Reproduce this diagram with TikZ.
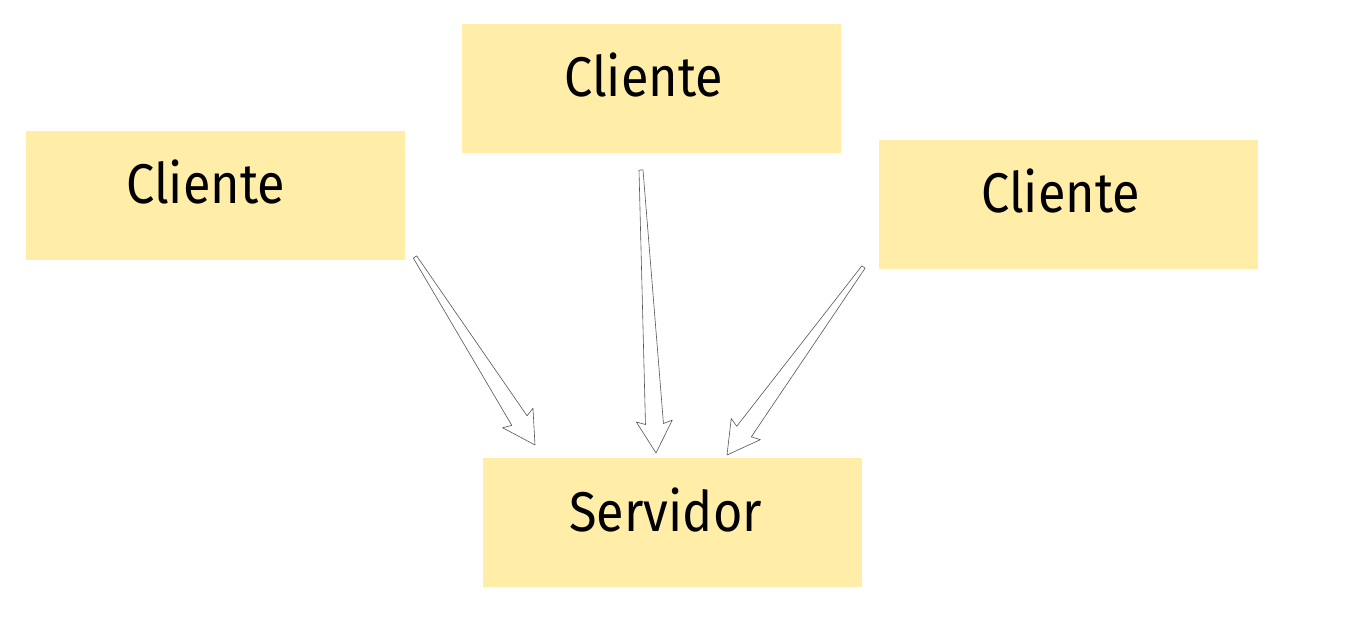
\documentclass[tikz,border=0pt]{standalone}
\usepackage{fontspec}
\setmainfont{Fira Sans}[FakeStretch=0.9]
\usetikzlibrary{calc}
\definecolor{boxfill}{HTML}{FFEDA8}
\definecolor{arrowline}{HTML}{555555}
\tikzset{
  box/.style={fill=boxfill, draw=none, minimum width=379pt, minimum height=129pt, inner sep=0pt, anchor=north west},
  lbl/.style={font=\fontsize{56}{60}\selectfont, anchor=base, inner sep=0pt},
  fat/.style={draw=arrowline, fill=white, line width=0.6pt, line join=round}
}
\newcommand\fatarrow[2]{%
  \draw[fat] ($(#1)!2pt!90:(#2)$) -- ($(#2)!29pt!(#1)!9pt!-90:(#1)$) -- ($(#2)!32pt!(#1)!18pt!-90:(#1)$)
    -- (#2) -- ($(#2)!32pt!(#1)!18pt!90:(#1)$) -- ($(#2)!29pt!(#1)!9pt!90:(#1)$) -- ($(#1)!2pt!-90:(#2)$) -- cycle;}
\begin{document}
\begin{tikzpicture}[x=1pt,y=-1pt]
\useasboundingbox (0,0) rectangle (1362,644);
\node[box] (c1) at (26,131) {};
\node[box] (c2) at (462,24) {};
\node[box] (c3) at (879,140) {};
\node[box] (sv) at (483,458) {};
\node[lbl] (t1) at ($(c1.north)+(-10,73)$) {Cliente};
\node[lbl] (t2) at ($(c2.north)+(-8,73)$) {Cliente};
\node[lbl] (t3) at ($(c3.north)+(-8,73)$) {Cliente};
\node[lbl] (t4) at ($(sv.north)+(-7,73)$) {Servidor};
\coordinate (a1) at (415,257); \coordinate (b1) at (535,445);
\coordinate (a2) at (641,170); \coordinate (b2) at (656,453);
\coordinate (a3) at (863.5,267); \coordinate (b3) at (727,455);
\fatarrow{a1}{b1}
\fatarrow{a2}{b2}
\fatarrow{a3}{b3}
\end{tikzpicture}
\end{document}
